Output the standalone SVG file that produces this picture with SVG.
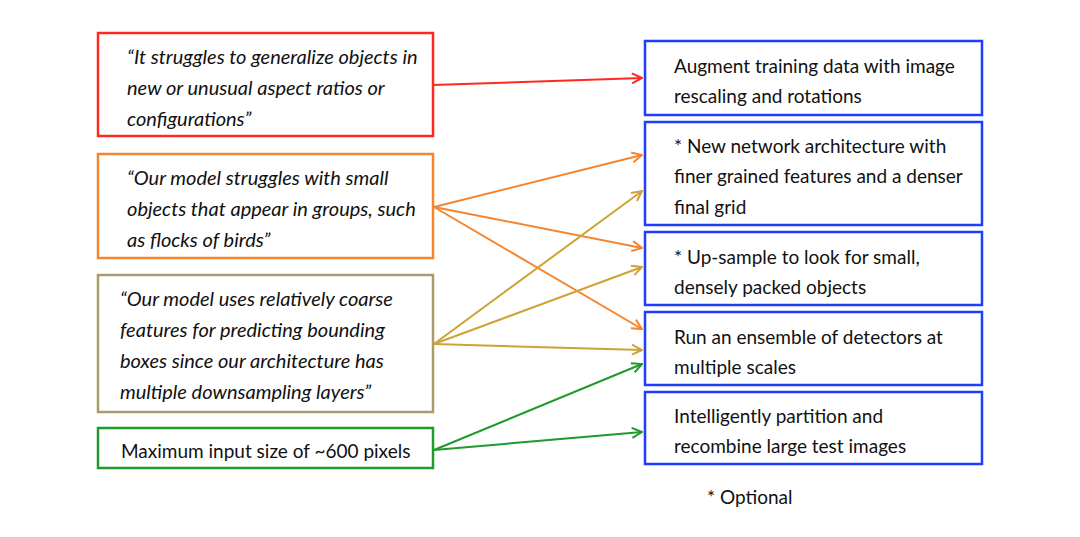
<svg xmlns="http://www.w3.org/2000/svg" width="1080" height="537" viewBox="0 0 1080 537">
<style>
.box{fill:#fff;stroke-width:2.5}
.q{font-family:Lato,"Open Sans",sans-serif;font-style:italic;font-size:20px;fill:#111}
.t{font-family:Lato,"Open Sans",sans-serif;font-size:19px;fill:#111}
.c{fill:none;stroke-width:2}
</style>
<defs>
<marker id="aR" viewBox="0 0 12 12" refX="11" refY="6" markerWidth="12" markerHeight="12" markerUnits="userSpaceOnUse" orient="auto"><path d="M1,1 L11,6 L1,11" fill="none" stroke="#FF2A1F" stroke-width="2"/></marker>
<marker id="aO" viewBox="0 0 12 12" refX="11" refY="6" markerWidth="12" markerHeight="12" markerUnits="userSpaceOnUse" orient="auto"><path d="M1,1 L11,6 L1,11" fill="none" stroke="#F5852E" stroke-width="2"/></marker>
<marker id="aY" viewBox="0 0 12 12" refX="11" refY="6" markerWidth="12" markerHeight="12" markerUnits="userSpaceOnUse" orient="auto"><path d="M1,1 L11,6 L1,11" fill="none" stroke="#CDA335" stroke-width="2"/></marker>
<marker id="aG" viewBox="0 0 12 12" refX="11" refY="6" markerWidth="12" markerHeight="12" markerUnits="userSpaceOnUse" orient="auto"><path d="M1,1 L11,6 L1,11" fill="none" stroke="#1F9A2B" stroke-width="2"/></marker>
</defs>
<rect width="1080" height="537" fill="#fff"/>
<g id="connectors">
<line class="c" stroke="#FF2A1F" x1="433" y1="85" x2="642" y2="78" marker-end="url(#aR)"/>
<line class="c" stroke="#F5852E" x1="434" y1="207" x2="642" y2="155" marker-end="url(#aO)"/>
<line class="c" stroke="#F5852E" x1="434" y1="207" x2="642" y2="248" marker-end="url(#aO)"/>
<line class="c" stroke="#F5852E" x1="434" y1="207" x2="642" y2="329" marker-end="url(#aO)"/>
<line class="c" stroke="#CDA335" x1="434" y1="344" x2="642" y2="191" marker-end="url(#aY)"/>
<line class="c" stroke="#CDA335" x1="434" y1="344" x2="642" y2="267" marker-end="url(#aY)"/>
<line class="c" stroke="#CDA335" x1="434" y1="344" x2="642" y2="350" marker-end="url(#aY)"/>
<line class="c" stroke="#1F9A2B" x1="434" y1="450" x2="642" y2="364" marker-end="url(#aG)"/>
<line class="c" stroke="#1F9A2B" x1="434" y1="450" x2="642" y2="432" marker-end="url(#aG)"/>
</g>
<g id="src1">
<rect class="box" stroke="#FF2A1F" x="98" y="33" width="335" height="103"/>
<text class="q" x="127" y="64">“It struggles to generalize objects in</text>
<text class="q" x="127" y="95">new or unusual aspect ratios or</text>
<text class="q" x="127" y="126">configurations”</text>
</g>
<g id="src2">
<rect class="box" stroke="#F5852E" x="98" y="154" width="335" height="104"/>
<text class="q" x="127" y="185">“Our model struggles with small</text>
<text class="q" x="127" y="216">objects that appear in groups, such</text>
<text class="q" x="127" y="247">as flocks of birds”</text>
</g>
<g id="src3">
<rect class="box" stroke="#A99B6C" x="98" y="275" width="335" height="137"/>
<text class="q" x="120" y="306">“Our model uses relatively coarse</text>
<text class="q" x="120" y="337">features for predicting bounding</text>
<text class="q" x="120" y="368">boxes since our architecture has</text>
<text class="q" x="120" y="399">multiple downsampling layers”</text>
</g>
<g id="src4">
<rect class="box" stroke="#1F9A2B" x="98" y="428" width="335" height="40"/>
<text class="t" x="121" y="458">Maximum input size of ~600 pixels</text>
</g>
<g id="fix1">
<rect class="box" stroke="#1F3DFF" x="645" y="41" width="337" height="74"/>
<text class="t" x="674" y="73">Augment training data with image</text>
<text class="t" x="674" y="103">rescaling and rotations</text>
</g>
<g id="fix2">
<rect class="box" stroke="#1F3DFF" x="645" y="122" width="337" height="103"/>
<text class="t" x="674" y="153">* New network architecture with</text>
<text class="t" x="674" y="183">finer grained features and a denser</text>
<text class="t" x="674" y="214">final grid</text>
</g>
<g id="fix3">
<rect class="box" stroke="#1F3DFF" x="645" y="232" width="337" height="73"/>
<text class="t" x="674" y="264">* Up-sample to look for small,</text>
<text class="t" x="674" y="294">densely packed objects</text>
</g>
<g id="fix4">
<rect class="box" stroke="#1F3DFF" x="645" y="312" width="337" height="73"/>
<text class="t" x="674" y="344">Run an ensemble of detectors at</text>
<text class="t" x="674" y="374">multiple scales</text>
</g>
<g id="fix5">
<rect class="box" stroke="#1F3DFF" x="645" y="392" width="337" height="72"/>
<text class="t" x="674" y="423">Intelligently partition and</text>
<text class="t" x="674" y="453">recombine large test images</text>
</g>
<text id="note" class="t" x="707" y="504">* Optional</text>
</svg>
